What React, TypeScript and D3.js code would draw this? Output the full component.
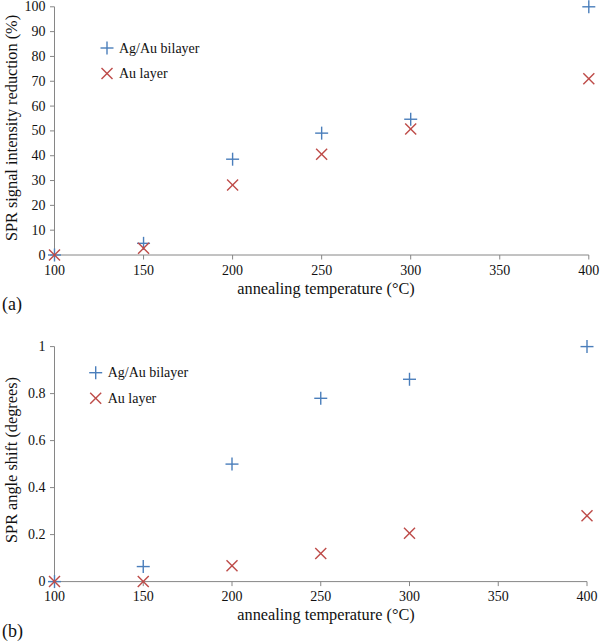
import React from "react";
import * as d3 from "d3";

const temperatures = [100, 150, 200, 250, 300, 400];
const xTicks = [100, 150, 200, 250, 300, 350, 400];

const intensityAgAu = [0, 4.7, 38.6, 49.1, 54.7, 100];
const intensityAu = [0, 2.7, 28.2, 40.6, 50.8, 71];
const intensityTicks = [0, 10, 20, 30, 40, 50, 60, 70, 80, 90, 100];

const angleAgAu = [0, 0.064, 0.5, 0.78, 0.861, 1.0];
const angleAu = [0, 0, 0.067, 0.12, 0.206, 0.28];
const angleTicks = [0, 0.2, 0.4, 0.6, 0.8, 1];

const seriesNames = ["Ag/Au bilayer", "Au layer"];
const xTitle = "annealing temperature (°C)";

const BLUE = "#4a7ebb";
const RED = "#be4b48";
const AXIS = "#868686";
const FONT = "'Liberation Serif', 'Times New Roman', serif";

type PanelProps = {
  top: number;
  bottom: number;
  left: number;
  right: number;
  yMax: number;
  yTicks: number[];
  yFormat: (v: number) => string;
  agau: number[];
  au: number[];
  yTitle: string;
  yTitleCenter: number;
  legendX: number;
  legendY: number;
  tag: string;
};

function Plus({ x, y }: { x: number; y: number }) {
  const s = 6.5;
  return (
    <g stroke={BLUE} strokeWidth={1.4}>
      <line x1={x - s} x2={x + s} y1={y} y2={y} />
      <line x1={x} x2={x} y1={y - s} y2={y + s} />
    </g>
  );
}

function Cross({ x, y }: { x: number; y: number }) {
  const s = 5.5;
  return (
    <g stroke={RED} strokeWidth={1.4}>
      <line x1={x - s} x2={x + s} y1={y - s} y2={y + s} />
      <line x1={x - s} x2={x + s} y1={y + s} y2={y - s} />
    </g>
  );
}

function Panel(p: PanelProps) {
  const x = d3.scaleLinear().domain([100, 400]).range([p.left, p.right]);
  const y = d3.scaleLinear().domain([0, p.yMax]).range([p.bottom, p.top]);
  return (
    <g fontFamily={FONT} fill="#111">
      <line x1={p.left} x2={p.left} y1={p.bottom} y2={p.top} stroke={AXIS} strokeWidth={1} />
      {p.yTicks.map((t) => (
        <g key={"y" + t}>
          <line x1={p.left - 4.5} x2={p.left} y1={y(t)} y2={y(t)} stroke={AXIS} strokeWidth={1} />
          <text x={p.left - 9} y={y(t)} textAnchor="end" dominantBaseline="central" fontSize={14}>
            {p.yFormat(t)}
          </text>
        </g>
      ))}
      <line x1={p.left} x2={p.right} y1={p.bottom} y2={p.bottom} stroke={AXIS} strokeWidth={1} />
      {xTicks.map((t) => (
        <g key={"x" + t}>
          <line x1={x(t)} x2={x(t)} y1={p.bottom} y2={p.bottom + 4.5} stroke={AXIS} strokeWidth={1} />
          <text x={x(t)} y={p.bottom + 15} textAnchor="middle" dominantBaseline="central" fontSize={14}>
            {t}
          </text>
        </g>
      ))}
      <text x={326} y={p.bottom + 33} textAnchor="middle" dominantBaseline="central" fontSize={16.3}>
        {xTitle}
      </text>
      <text
        transform={`translate(11,${p.yTitleCenter}) rotate(-90)`}
        textAnchor="middle"
        dominantBaseline="central"
        fontSize={16.3}
      >
        {p.yTitle}
      </text>
      <text x={2} y={p.bottom + 49} dominantBaseline="central" fontSize={18}>
        {p.tag}
      </text>
      {temperatures.map((t, i) => (
        <Plus key={"p" + i} x={x(t)} y={y(p.agau[i])} />
      ))}
      {temperatures.map((t, i) => (
        <Cross key={"c" + i} x={x(t)} y={y(p.au[i])} />
      ))}
      <Plus x={p.legendX} y={p.legendY} />
      <text x={p.legendX + 12} y={p.legendY} dominantBaseline="central" fontSize={14}>
        {seriesNames[0]}
      </text>
      <Cross x={p.legendX} y={p.legendY + 25.5} />
      <text x={p.legendX + 12} y={p.legendY + 25.5} dominantBaseline="central" fontSize={14}>
        {seriesNames[1]}
      </text>
    </g>
  );
}

export default function App() {
  return (
    <svg
      width={600}
      height={641}
      style={{ position: "absolute", left: 0, top: 0, background: "#fff" }}
    >
      <rect width={600} height={641} fill="#fff" />
      <Panel
        top={6.8}
        bottom={255}
        left={54.5}
        right={588.8}
        yMax={100}
        yTicks={intensityTicks}
        yFormat={(v) => String(v)}
        agau={intensityAgAu}
        au={intensityAu}
        yTitle="SPR signal intensity reduction (%)"
        yTitleCenter={128}
        legendX={107}
        legendY={48}
        tag="(a)"
      />
      <Panel
        top={346.6}
        bottom={581.6}
        left={54.5}
        right={587}
        yMax={1}
        yTicks={angleTicks}
        yFormat={(v) => String(v)}
        agau={angleAgAu}
        au={angleAu}
        yTitle="SPR angle shift (degrees)"
        yTitleCenter={460}
        legendX={95.7}
        legendY={372.7}
        tag="(b)"
      />
    </svg>
  );
}
